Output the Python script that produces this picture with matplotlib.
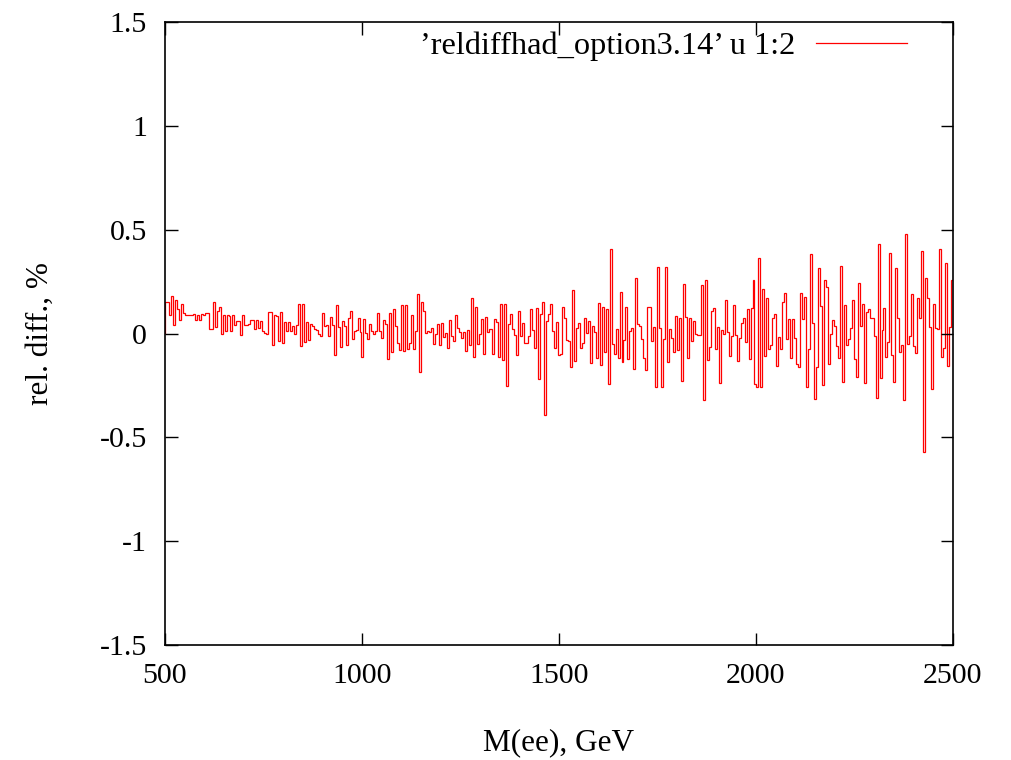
import numpy as np
import matplotlib
matplotlib.use('Agg')
import matplotlib.pyplot as plt

plt.rcParams['font.family'] = ['Liberation Serif', 'DejaVu Serif']

# relative difference per M(ee) bin (500 -> 2500 GeV)
seg1 = [0.15, 0.15, 0.09, 0.18, 0.04, 0.16, 0.12, 0.065, 0.14, 0.10, 0.09, 0.087, 0.09, 0.09,
        0.095, 0.067, 0.09, 0.067, 0.096, 0.09, 0.10, 0.098, 0.022, 0.022, 0.15, 0.03, 0.11, 0.13,
        0.0, 0.09, 0.01, 0.09, 0.083, 0.01, 0.09, 0.04, 0.06, 0.06, -0.005, 0.09, 0.04, 0.043,
        0.048, 0.067, 0.067, 0.022, 0.067, 0.027, 0.06, 0.011, 0.003, 0.0, 0.106, 0.106, -0.053,
        0.087, 0.083, -0.037, 0.103, -0.045, 0.055, 0.011, 0.055, 0.011, 0.035, 0.0, 0.04]
seg2 = [0.14, -0.06, 0.14, -0.04, 0.055, -0.03, 0.045, 0.036, 0.02, 0.015, -0.004, -0.01, 0.10,
        0.036, 0.04, -0.012, 0.08, 0.04, -0.105, 0.135, 0.03, -0.065, 0.06, 0.036, -0.055, 0.076,
        0.11, -0.025, 0.012, 0.015, 0.073, 0.007, -0.113, 0.07, 0.004, -0.028, 0.044, 0.012,
        -0.004, 0.012, 0.10, 0.012, -0.02, 0.063, 0.047, -0.124, 0.10, -0.09, 0.12, 0.036, -0.044,
        -0.08, 0.137, -0.084, 0.135, -0.076, -0.044, 0.087, -0.073, 0.012, 0.19, -0.184, 0.15,
        0.11, 0.004, 0.012]
seg3 = [0.007, 0.025, -0.05, -0.004, 0.044, -0.057, 0.049, -0.017, 0.004, -0.07, 0.063, -0.01,
        -0.036, 0.087, 0.025, 0.009, -0.02, 0.007, -0.084, 0.015, -0.055, 0.17, -0.113, 0.127,
        -0.052, 0.0, 0.07, -0.097, 0.08, 0.007, 0.023, 0.023, -0.097, 0.068, 0.057, -0.113, 0.14,
        -0.129, 0.14, -0.253, 0.044, 0.095, 0.02, -0.007, -0.104, 0.108, -0.012, 0.049, -0.044,
        -0.044, -0.012, 0.12, 0.017, -0.068, 0.121, -0.22, 0.092, 0.152, -0.39, 0.06, 0.095,
        0.144, 0.012, -0.068, 0.055, -0.104]
seg4 = [-0.1, 0.13, 0.076, -0.033, -0.036, -0.16, 0.21, -0.13, 0.025, 0.052, -0.068, -0.044,
        0.076, 0.004, 0.06, -0.144, 0.036, 0.009, -0.116, 0.148, -0.153, 0.13, -0.089, 0.116,
        -0.245, 0.405, -0.052, -0.1, 0.023, -0.116, 0.2, -0.135, -0.033, 0.127, -0.124, 0.012,
        0.028, -0.173, 0.265, 0.044, 0.036, -0.028, -0.12, -0.177, 0.127, 0.127, -0.036, 0.031,
        -0.256, 0.32, 0.028, -0.258, -0.028, 0.32, -0.135, 0.02, -0.02, -0.087, 0.084, -0.08,
        0.076, -0.228, 0.24, 0.079, -0.12, 0.073, -0.036]
seg5 = [0.06, 0.0, -0.005, -0.005, 0.234, -0.32, 0.26, -0.128, -0.065, 0.108, 0.121, -0.073,
        0.031, -0.237, 0.015, 0.0, 0.161, 0.009, -0.108, -0.012, 0.136, -0.007, -0.13, -0.02,
        0.049, 0.076, -0.039, 0.116, -0.121, 0.124, 0.26, -0.242, -0.256, 0.365, -0.256, 0.216,
        -0.108, 0.172, -0.076, -0.055, 0.076, 0.092, -0.156, -0.015, -0.076, 0.152, 0.196,
        -0.025, 0.071, -0.12, 0.071, -0.02, -0.145, -0.16, 0.193, 0.068, 0.175, -0.258, -0.073,
        0.385, 0.052, -0.317, -0.16, 0.314, 0.132, -0.248]
seg6 = [0.258, 0.226, -0.145, 0.0, 0.063, 0.036, -0.06, -0.116, 0.325, -0.232, 0.137, -0.055,
        -0.025, 0.028, 0.161, -0.124, -0.208, 0.241, 0.036, 0.143, -0.237, 0.105, 0.116, 0.076,
        0.076, -0.012, -0.309, 0.432, -0.216, 0.015, 0.124, -0.112, -0.042, 0.389, -0.105,
        -0.234, 0.317, 0.076, -0.089, -0.055, -0.32, 0.48, -0.052, -0.012, 0.191, -0.06, -0.092,
        0.172, 0.076, 0.397, -0.57, 0.268, 0.169, 0.031, -0.268, 0.14, 0.025, 0.02, 0.405,
        -0.113, -0.068, 0.34, -0.156, 0.031, 0.26]

reldiff = np.array(seg1 + seg2 + seg3 + seg4 + seg5 + seg6)
edges = np.linspace(500, 2500, len(reldiff) + 1)

xticks = [500, 1000, 1500, 2000, 2500]
yticks = [-1.5, -1, -0.5, 0, 0.5, 1, 1.5]
ytick_labels = ['-1.5', '-1', '-0.5', '0', '0.5', '1', '1.5']

fs = 21.5

fig = plt.figure(figsize=(10.11, 7.6), dpi=100)
ax = fig.add_axes([0.1632, 0.1513, 0.7794, 0.8197])

ax.stairs(reldiff, edges, color='red', lw=0.9, label='\u2019reldiffhad_option3.14\u2019 u 1:2')

ax.set_xlim(500, 2500)
ax.set_ylim(-1.5, 1.5)
ax.set_xticks(xticks)
ax.set_yticks(yticks)
ax.set_yticklabels(ytick_labels)
ax.tick_params(direction='in', length=9, width=1, labelsize=fs, top=True, right=True, pad=13)
for s in ax.spines.values():
    s.set_linewidth(1.2)

ax.set_xlabel('M(ee), GeV', fontsize=22.5, labelpad=28)
ax.set_ylabel('rel. diff., %', fontsize=22.5, labelpad=32)

ax.legend(loc='upper right', frameon=False, fontsize=23.3, markerfirst=False,
          handlelength=2.8, handletextpad=0.65, borderpad=0, borderaxespad=0,
          bbox_to_anchor=(0.9416, 0.985))

fig.savefig('out.png', dpi=100)
